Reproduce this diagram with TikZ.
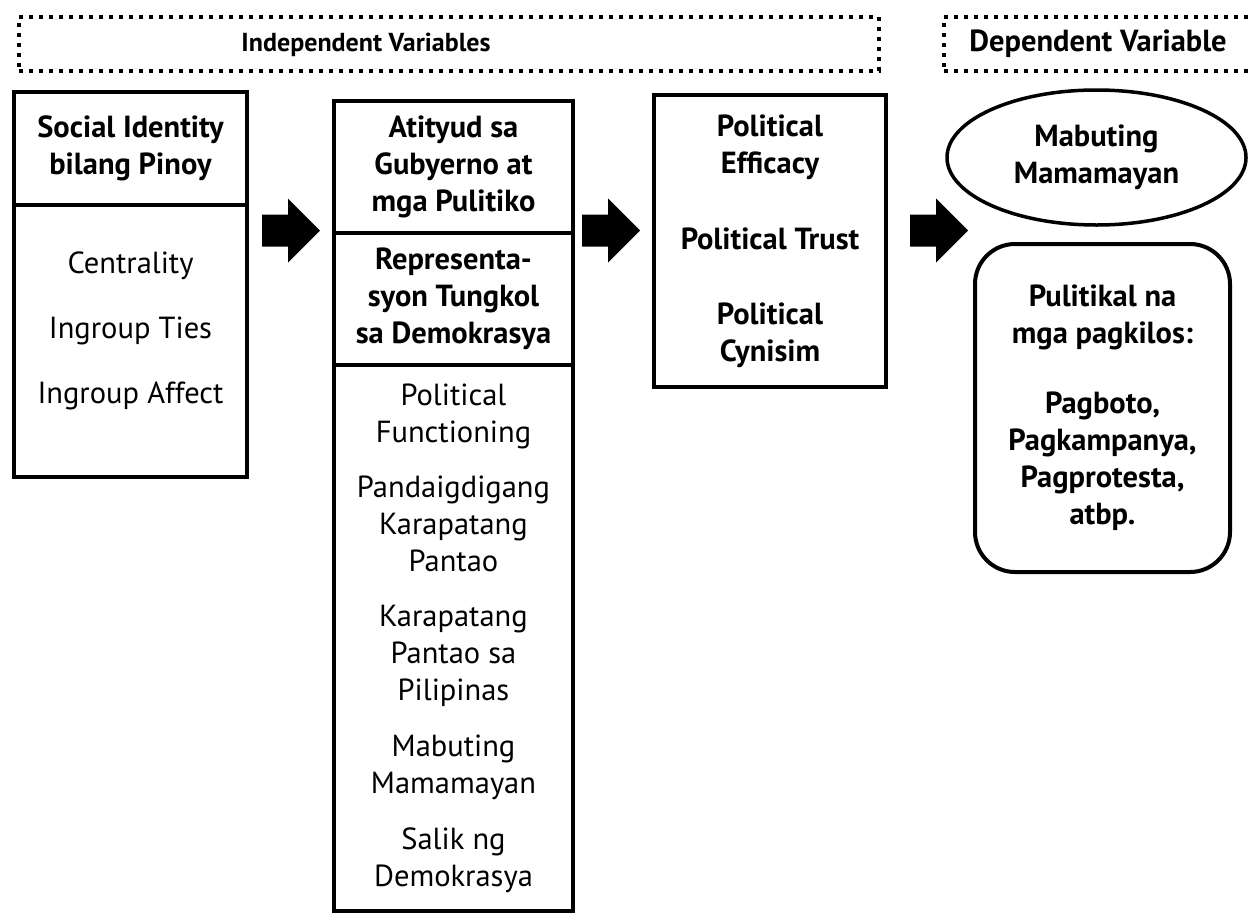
\documentclass[tikz,border=0pt]{standalone}
\usepackage{fontspec}
\setmainfont{PT Sans}
\usetikzlibrary{shapes,positioning,calc}

\tikzset{
    box/.style={draw, line width=4pt, anchor=north west, align=center, inner sep=0pt,
        font=\fontsize{30.5}{37}\selectfont},
    ttl/.style={box, font=\bfseries\fontsize{30.5}{37}\selectfont},
    dotbox/.style={draw, line width=4pt, dash pattern=on 4pt off 6pt, anchor=north west, inner sep=0pt},
    hdr/.style={anchor=base, font=\bfseries\fontsize{30.5}{37}\selectfont}
}

\begin{document}
\begin{tikzpicture}[x=1pt,y=-1pt]
    \useasboundingbox (0,0) rectangle (1249,916);
    \clip (0,0) rectangle (1249,916);
    \fill[white] (0,0) rectangle (1249,916);
    % headers
    \node[dotbox, minimum width=860pt, minimum height=54pt] (ivbox) at (17,15) {};
    \node[dotbox, minimum width=330pt, minimum height=54pt] (dvbox) at (942,15) {};
    \node[hdr, font=\bfseries\fontsize{26}{37}\selectfont] (ivt) at (366,51) {Independent Variables};
    \node[hdr] (dvt) at (1098,51) {Dependent Variable};
    % first column
    \node[ttl, minimum width=233pt, minimum height=113pt] (sid) at (12,90) {Social Identity\\bilang Pinoy};
    \node[box, minimum width=233pt, minimum height=272pt] (sidl) at (12,203) {Centrality\\[28pt]Ingroup Ties\\[28pt]Ingroup Affect\\[-10pt]~};
    % second column
    \node[ttl, minimum width=239pt, minimum height=132pt] (att) at (332,99) {Atityud sa\\Gubyerno at\\mga Pulitiko};
    \node[ttl, minimum width=239pt, minimum height=132pt] (rep) at (332,231) {Representa-\\syon Tungkol\\sa Demokrasya};
    \node[box, minimum width=239pt, minimum height=546pt] (repl) at (332,363) {Political\\Functioning\\[18pt]Pandaigdigang\\Karapatang\\Pantao\\[18pt]Karapatang\\Pantao sa\\Pilipinas\\[19pt]Mabuting\\Mamamayan\\[19pt]Salik ng\\Demokrasya};
    % third column
    \node[ttl, minimum width=232pt, minimum height=292pt] (pol) at (652,93) {Political\\Efficacy\\[39pt]Political Trust\\[38pt]Political\\Cynisim};
    % outcome
    \node[ttl, ellipse, anchor=center, line width=3.5pt, minimum width=299pt, minimum height=135pt] (mab) at (1096.5,157.5) {Mabuting\\Mamamayan};
    \node[ttl, rounded corners=40pt, minimum width=255pt, minimum height=328pt] (act) at (973,242) {Pulitikal na\\mga pagkilos:\\[33pt]Pagboto,\\Pagkampanya,\\Pagprotesta,\\atbp.};
    % block arrows
    \foreach \x in {262,582,910}
        \fill (\x,214.5) -- ++(26,0) -- ++(0,-16) -- ++(32,32) -- ++(-32,32) -- ++(0,-16) -- ++(-26,0) -- cycle;
\end{tikzpicture}
\end{document}
